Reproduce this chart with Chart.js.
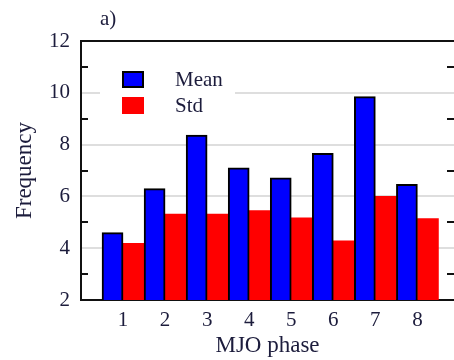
<!DOCTYPE html>
<html>
<head>
<meta charset="utf-8">
<script src="https://cdn.jsdelivr.net/npm/chart.js@4"></script>
<style>
  html, body { margin: 0; padding: 0; background: #ffffff; overflow: hidden; }
  #wrap { width: 454px; height: 360px; }
</style>
</head>
<body>
<div id="wrap"><canvas id="mjoChart"></canvas></div>
<script>
// --- Data ---
const phases = [1, 2, 3, 4, 5, 6, 7, 8];
const meanValues = [4.6, 6.3, 8.37, 7.1, 6.72, 7.66, 9.85, 6.47];
const stdValues = [4.19, 5.32, 5.32, 5.45, 5.17, 4.28, 6.0, 5.14];
const yTicks = [2, 4, 6, 8, 10, 12];
const panelLabel = 'a)';

const TEXT = '#1c1c3c';
const SERIF = '"Liberation Serif", "DejaVu Serif", serif';

// frame top line, inward minor ticks, panel label, legend inside the plot
const framePlugin = {
    id: 'frame',
    afterDatasetsDraw(chart) {
        const ctx = chart.ctx;
        const area = chart.chartArea;
        const y = chart.scales.y;
        ctx.save();

        // legend box (white background covers gridlines)
        ctx.fillStyle = '#ffffff';
        ctx.fillRect(area.left + 19, area.top + 22, 135, 58);
        const items = chart.data.datasets;
        items.forEach((ds, i) => {
            const by = area.top + 30 + i * 26;
            ctx.fillStyle = ds.backgroundColor;
            ctx.fillRect(area.left + 41, by, 22, 17);
            if (ds.borderWidth) {
                ctx.strokeStyle = '#000000';
                ctx.lineWidth = 2;
                ctx.strokeRect(area.left + 42, by + 1, 20, 15);
            }
            ctx.fillStyle = TEXT;
            ctx.font = '21px ' + SERIF;
            ctx.textBaseline = 'middle';
            ctx.textAlign = 'left';
            ctx.fillText(ds.label, area.left + 94, by + 9);
        });

        // top border
        ctx.strokeStyle = '#111111';
        ctx.lineWidth = 2;
        ctx.beginPath();
        ctx.moveTo(area.left, area.top);
        ctx.lineTo(area.right, area.top);
        ctx.stroke();

        // minor ticks at odd values, pointing inwards
        ctx.lineWidth = 2;
        for (let v = 3; v <= 11; v += 2) {
            const py = Math.round(y.getPixelForValue(v));
            ctx.beginPath();
            ctx.moveTo(area.left, py);
            ctx.lineTo(area.left + 7, py);
            ctx.moveTo(area.right - 7, py);
            ctx.lineTo(area.right, py);
            ctx.stroke();
        }

        // panel label
        ctx.fillStyle = TEXT;
        ctx.font = '21px ' + SERIF;
        ctx.textAlign = 'left';
        ctx.textBaseline = 'middle';
        ctx.fillText(panelLabel, area.left + 19, area.top - 22);
        ctx.restore();
    }
};

function renderChart() {
    const ctx = document.getElementById('mjoChart').getContext('2d');
    new Chart(ctx, {
        type: 'bar',
        data: {
            datasets: [{
                label: 'Mean',
                data: phases.map((p, i) => ({ x: p, y: meanValues[i] })),
                backgroundColor: '#0000ff',
                borderColor: '#000000',
                borderWidth: 2
            }, {
                label: 'Std',
                data: phases.map((p, i) => ({ x: p, y: stdValues[i] })),
                backgroundColor: '#ff0000',
                borderWidth: 0
            }]
        },
        options: {
            responsive: true,
            maintainAspectRatio: false,
            animation: false,
            layout: { padding: { top: 41, right: 0, left: 0, bottom: 0 } },
            datasets: {
                bar: { categoryPercentage: 1.0, barPercentage: 1.0 }
            },
            scales: {
                x: {
                    type: 'linear',
                    min: 0,
                    max: 8.87,
                    offset: false,
                    grid: { display: false, drawTicks: false },
                    border: { display: true, color: '#111111', width: 2 },
                    ticks: {
                        stepSize: 1,
                        includeBounds: false,
                        autoSkip: false,
                        maxRotation: 0,
                        padding: 8,
                        color: TEXT,
                        font: { family: SERIF, size: 21 },
                        callback: (v) => (phases.includes(v) ? String(v) : '')
                    },
                    title: {
                        display: true,
                        text: 'MJO phase',
                        color: TEXT,
                        font: { family: SERIF, size: 23 },
                        padding: { top: 0, bottom: 0 }
                    },
                    afterFit: (scale) => { scale.height = 60; }
                },
                y: {
                    min: 2,
                    max: 12,
                    grid: {
                        drawTicks: false,
                        lineWidth: 2,
                        color: (c) => (c.tick && yTicks.includes(c.tick.value) && c.tick.value !== 2 && c.tick.value !== 12) ? '#dedede' : 'rgba(0,0,0,0)'
                    },
                    border: { display: true, color: '#111111', width: 2 },
                    ticks: {
                        stepSize: 1,
                        padding: 11,
                        color: TEXT,
                        font: { family: SERIF, size: 21 },
                        callback: (v) => (yTicks.includes(v) ? String(v) : '')
                    },
                    title: {
                        display: true,
                        text: 'Frequency',
                        color: TEXT,
                        font: { family: SERIF, size: 23 },
                        padding: { top: 11, bottom: 0 }
                    },
                    afterFit: (scale) => { scale.width = 81; }
                }
            },
            plugins: {
                legend: { display: false },
                tooltip: { enabled: false },
                title: { display: false }
            }
        },
        plugins: [framePlugin]
    });
}

document.addEventListener('DOMContentLoaded', renderChart);
</script>
</body>
</html>
